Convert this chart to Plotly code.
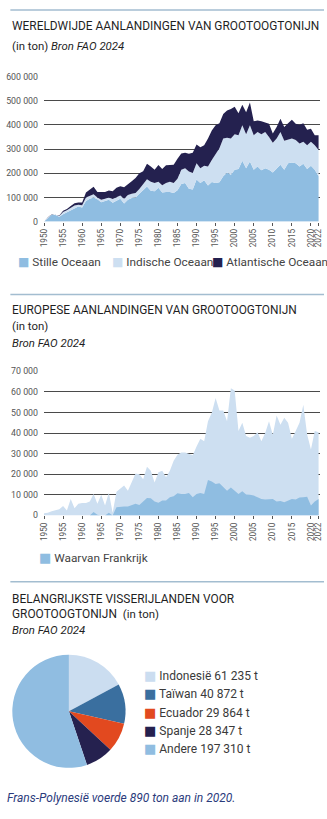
import plotly.graph_objects as go

# ---------------- DATA ----------------
jaren = list(range(1950, 2023))

stille_oceaan = [0, 15000, 28000, 27000, 20000, 30000, 38000, 48000, 57000, 62000,
                 58000, 85000, 95000, 100000, 92000, 80000, 85000, 90000, 78000, 85000,
                 95000, 75000, 90000, 98000, 100000, 115000, 130000, 145000, 128000, 125000,
                 140000, 120000, 122000, 122000, 118000, 130000, 155000, 160000, 136000, 133000,
                 174000, 160000, 171000, 149000, 164000, 160000, 163000, 187000, 203000, 194000,
                 214000, 217000, 252000, 221000, 248000, 214000, 228000, 212000, 221000, 214000,
                 203000, 217000, 235000, 214000, 241000, 244000, 241000, 228000, 239000, 217000,
                 231000, 214000, 187000]

indische_oceaan = [0, 2000, 1000, 1000, 3000, 10000, 9000, 9000, 10000, 8000,
                   10000, 15000, 13000, 13000, 8000, 10000, 10000, 10000, 15000, 15000,
                   13000, 20000, 20000, 17000, 18000, 20000, 25000, 30000, 37000, 35000,
                   25000, 30000, 38000, 43000, 42000, 47000, 59000, 61000, 71000, 68000,
                   67000, 61000, 60000, 79000, 91000, 122000, 140000, 156000, 144000, 149000,
                   147000, 140000, 146000, 140000, 150000, 143000, 142000, 149000, 149000, 136000,
                   123000, 126000, 135000, 120000, 98000, 99000, 96000, 95000, 91000, 99000,
                   99000, 102000, 109000]

atlantische_oceaan = [0, 1000, 1000, 1000, 2000, 5000, 5000, 8000, 9000, 9000,
                      11000, 20000, 25000, 31000, 22000, 32000, 27000, 29000, 32000, 40000,
                      38000, 47000, 43000, 52000, 62000, 65000, 53000, 64000, 63000, 54000,
                      69000, 67000, 73000, 68000, 75000, 83000, 68000, 64000, 73000, 84000,
                      78000, 86000, 85000, 115000, 122000, 116000, 104000, 102000, 112000, 122000,
                      114000, 91000, 85000, 91000, 94000, 58000, 48000, 54000, 41000, 54000,
                      38000, 48000, 55000, 57000, 68000, 78000, 67000, 77000, 77000, 64000,
                      54000, 41000, 61000]

europa_totaal = [1000, 1300, 2000, 2400, 3000, 4500, 2400, 8000, 3500, 5600,
                 6000, 6000, 6700, 10400, 5600, 10000, 4800, 11000, 1300, 11500,
                 13000, 14500, 12000, 16000, 20400, 20000, 17600, 23600, 21700, 16000,
                 21000, 21700, 18500, 21700, 26500, 29500, 30500, 30500, 30000, 29200,
                 33400, 37200, 36000, 45700, 49800, 57000, 51000, 51000, 45700, 61800,
                 60600, 41000, 45000, 38500, 37700, 38500, 40400, 36000, 40000, 45700,
                 39200, 48500, 44000, 47400, 45000, 37200, 41000, 45000, 53700, 39300,
                 32000, 41000, 40400]

frankrijk = [0, 0, 0, 0, 0, 0, 0, 0, 0, 0,
             0, 0, 0, 1600, 300, 0, 0, 1300, 0, 4000,
             4300, 4300, 4300, 4800, 5600, 5100, 6700, 8500, 8300, 6700,
             6100, 7200, 7200, 8800, 9300, 10800, 10400, 10400, 10900, 8800,
             10400, 10900, 10400, 17200, 16400, 15200, 15600, 13600, 12000, 13500,
             12000, 10400, 11700, 10100, 10000, 9600, 8800, 8000, 7700, 7700,
             8000, 6700, 7000, 6400, 7200, 8000, 7700, 8700, 8800, 9100,
             4800, 6700, 8000]

x_tickjaren = [1950, 1955, 1960, 1965, 1970, 1975, 1980, 1985, 1990, 1995,
               2000, 2005, 2010, 2015, 2020, 2022]

landen = ["Indonesië", "Taïwan", "Ecuador", "Spanje", "Andere"]
landen_ton = [61235, 40872, 29864, 28347, 197310]

# ---------------- STYLE ----------------
W, H = 327, 819
C_STILLE = "#8fbde1"
C_INDISCH = "#cddff1"
C_ATLANT = "#24214f"
PIE_COLORS = ["#cbddf0", "#3a6f9f", "#e2491f", "#25214f", "#90bde1"]
FONT = "Roboto"
TXT = "#1f1f1f"
GRID = "#4a4a4a"
TICK = "#555555"


def py(p):
    return 1 - p / H


def px(p):
    return p / W


fig = go.Figure()

# Chart 1: world stacked areas
for naam, vals, col in [("Stille Oceaan", stille_oceaan, C_STILLE),
                        ("Indische Oceaan", indische_oceaan, C_INDISCH),
                        ("Atlantische Oceaan", atlantische_oceaan, C_ATLANT)]:
    fig.add_trace(go.Scatter(x=jaren, y=vals, name=naam, mode="lines",
                             stackgroup="wereld", line=dict(width=0, color=col),
                             fillcolor=col, showlegend=False,
                             xaxis="x", yaxis="y"))

# Chart 2: Europe
fig.add_trace(go.Scatter(x=jaren, y=europa_totaal, name="Europa", mode="lines",
                         fill="tozeroy", line=dict(width=0, color=C_INDISCH),
                         fillcolor=C_INDISCH, showlegend=False,
                         xaxis="x2", yaxis="y2"))
fig.add_trace(go.Scatter(x=jaren, y=frankrijk, name="Waarvan Frankrijk", mode="lines",
                         fill="tozeroy", line=dict(width=0, color=C_STILLE),
                         fillcolor=C_STILLE, showlegend=False,
                         xaxis="x2", yaxis="y2"))

# Chart 3: pie
fig.add_trace(go.Pie(labels=landen, values=landen_ton, sort=False,
                     direction="clockwise", rotation=0,
                     marker=dict(colors=PIE_COLORS, line=dict(width=0)),
                     textinfo="none", showlegend=False, hoverinfo="label+value",
                     domain=dict(x=[px(7.5), px(123.5)], y=[py(773), py(657)])))

xcommon = dict(range=[1950, 2022.4], tickvals=x_tickjaren, tickangle=-90,
               ticks="outside", ticklen=3, tickcolor=TICK, tickwidth=1,
               tickfont=dict(family=FONT, size=8.2, color="#555555"),
               showgrid=False, zeroline=False, showline=False, fixedrange=True,
               domain=[px(40), px(323)])
ycommon = dict(showgrid=True, gridcolor=GRID, gridwidth=1, zeroline=False,
               showline=False, ticks="", ticklabelstandoff=5,
               tickformat=",d", tickfont=dict(family=FONT, size=8.8, color=TICK),
               fixedrange=True)

fig.update_layout(
    width=W, height=H, autosize=False,
    margin=dict(l=0, r=0, t=0, b=0, pad=0),
    paper_bgcolor="white", plot_bgcolor="white",
    separators=". ",
    font=dict(family=FONT, color=TXT),
    showlegend=False,
    xaxis=dict(anchor="y", **xcommon),
    yaxis=dict(anchor="x", domain=[py(219.3), py(72.3)], range=[0, 600000],
               dtick=100000, **ycommon),
    xaxis2=dict(anchor="y2", **xcommon),
    yaxis2=dict(anchor="x2", domain=[py(516.7), py(370.8)], range=[0, 70000],
                dtick=10000, **ycommon),
)

# separator lines
for yy in [5, 293, 584]:
    fig.add_shape(type="line", xref="paper", yref="paper",
                  x0=px(5.5), x1=1, y0=py(yy), y1=py(yy),
                  line=dict(color="#a3bdd0", width=1.5))

ann = []


def text(x, y, t, size, color=TXT, xanchor="left"):
    ann.append(dict(x=px(x), y=py(y), xref="paper", yref="paper", text=t,
                    showarrow=False, xanchor=xanchor, yanchor="middle",
                    font=dict(family=FONT, size=size, color=color),
                    borderpad=0, align="left"))


# titles
text(6.5, 21.5, "WERELDWIJDE AANLANDINGEN VAN GROOTOOGTONIJN", 11.9)
text(6.5, 41.7, "(in ton) <i>Bron FAO 2024</i>", 11.4)
text(6.5, 309, "EUROPESE AANLANDINGEN VAN GROOTOOGTONIJN", 11.9)
text(6.5, 325, "(in ton)", 11.4)
text(6.5, 341.7, "<i>Bron FAO 2024</i>", 11.4)
text(6.5, 601.7, "BELANGRIJKSTE VISSERIJLANDEN VOOR", 11.9)
text(6.5, 616.7, "GROOTOOGTONIJN  <span style='font-size:11.4px'>(in ton)</span>", 11.9)
text(6.5, 633, "<i>Bron FAO 2024</i>", 11.4)
text(1, 803, "<i>Frans-Polynesië voerde 890 ton aan in 2020.</i>", 12, color="#2b3b7c")


def sq(col, size=12):
    return ("<span style='color:%s;font-family:\"DejaVu Sans\";font-size:%spx'>■</span>"
            % (col, size))


LEG = "#444444"
# legend chart 1
text(12.5, 260, sq(C_STILLE) + " Stille Oceaan", 11.8, LEG)
text(108.5, 260, sq(C_INDISCH) + " Indische Oceaan", 11.8, LEG)
text(211.5, 260, sq(C_ATLANT) + " Atlantische Oceaan", 11.8, LEG)
# legend chart 2
text(34, 559, sq(C_STILLE, 13) + " Waarvan Frankrijk", 11.8, LEG)
# legend chart 3
rows = [679, 697.5, 716, 734.5, 753]
for naam, v, col, yy in zip(landen, landen_ton, PIE_COLORS, rows):
    waarde = "{:,}".format(v).replace(",", " ")
    text(141, yy, sq(col, 13) + " %s %s t" % (naam, waarde), 12, "#3a3a3a")

fig.update_layout(annotations=ann)

fig.write_html("out.html", config={"displayModeBar": False})
